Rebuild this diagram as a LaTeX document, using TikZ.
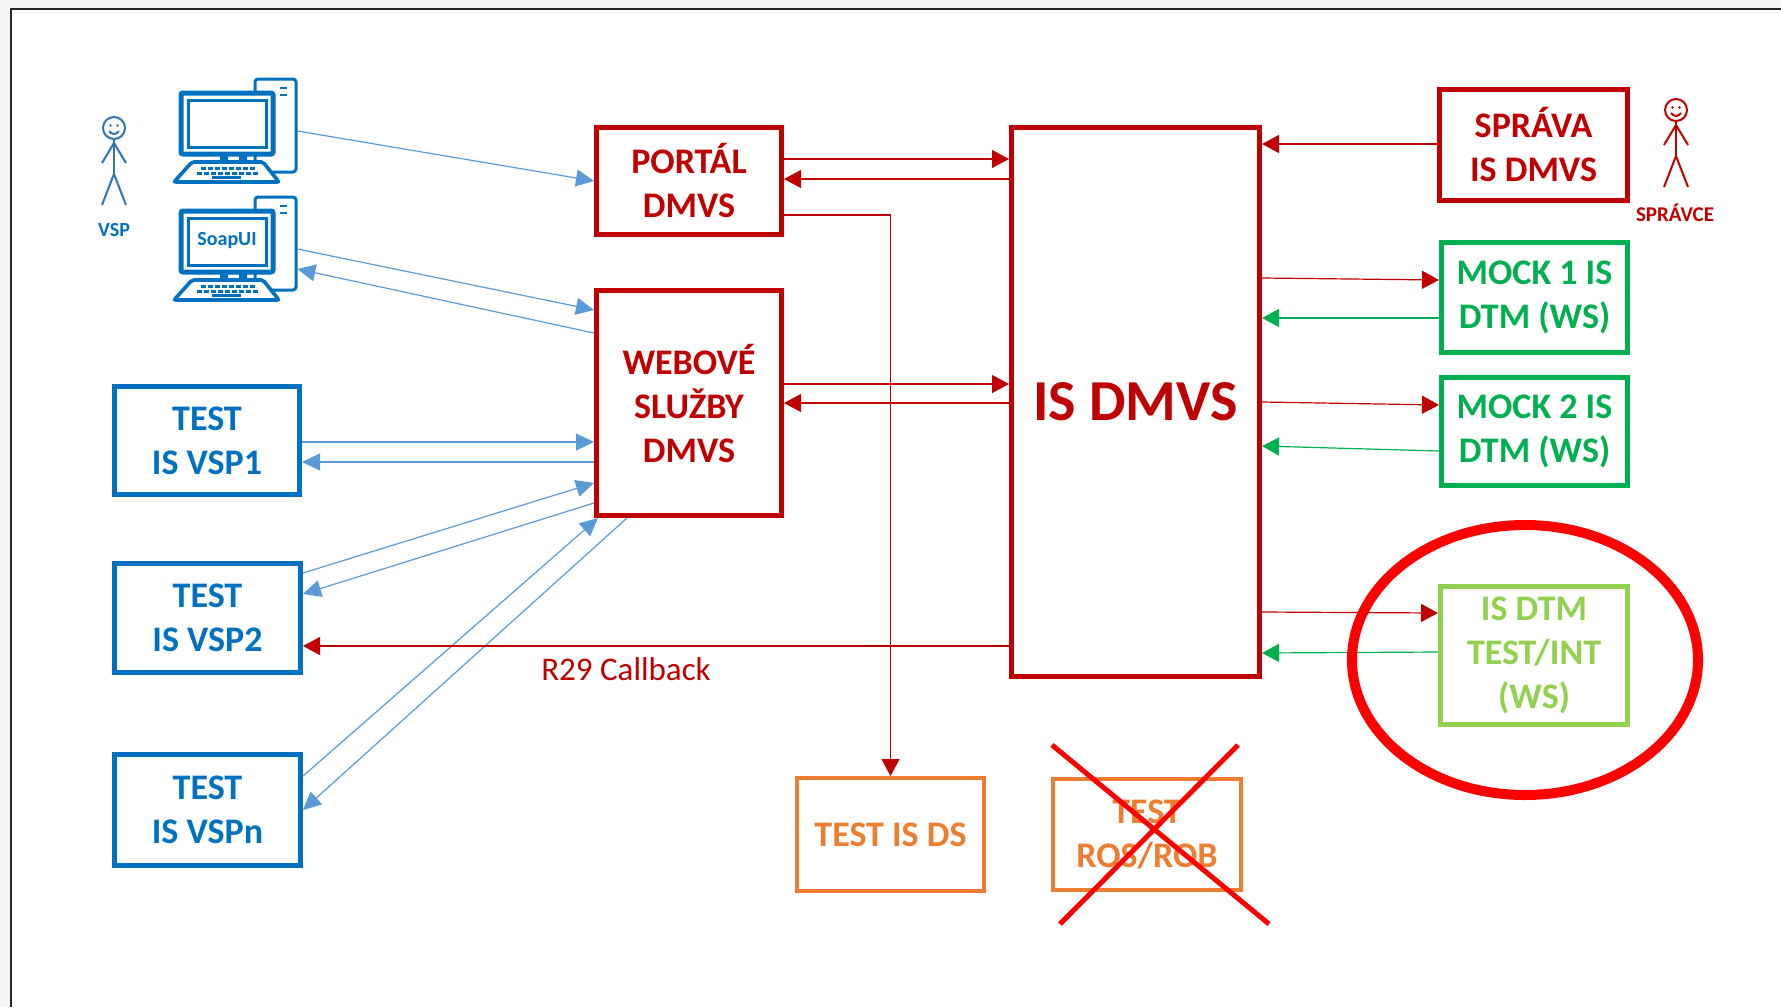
\documentclass[tikz,border=0pt]{standalone}
\usepackage{fontspec}
\setmainfont{Carlito}
\usetikzlibrary{arrows.meta,calc}
\definecolor{dred}{HTML}{C00000}
\definecolor{bblue}{HTML}{0070C0}
\definecolor{fblue}{HTML}{2E75B6}
\definecolor{lblue}{HTML}{5B9BD5}
\definecolor{mgreen}{HTML}{00B050}
\definecolor{lgreen}{HTML}{92D050}
\definecolor{orng}{HTML}{ED7D31}
\definecolor{bgray}{HTML}{F4F5F7}
\tikzset{
  box/.style={draw,line width=2.5pt,fill=white,inner sep=0pt,align=center,
    font=\fontsize{18}{22}\selectfont\bfseries},
  redbox/.style={box,draw=dred,text=dred},
  bluebox/.style={box,draw=bblue,text=bblue},
  greenbox/.style={box,draw=mgreen,text=mgreen},
  lgreenbox/.style={box,draw=lgreen,text=lgreen},
  orangebox/.style={box,line width=2pt,draw=orng,text=orng},
  bl/.style={draw=lblue,line width=0.6pt,-{Triangle[length=9pt,width=8.5pt]}},
  rd/.style={draw=dred,line width=0.6pt,-{Triangle[length=8.5pt,width=9pt]}},
  gr/.style={draw=mgreen,line width=0.6pt,-{Triangle[length=8.5pt,width=9pt]}},
  computer/.pic={
    \draw[bblue,line width=1.5pt,fill=white,rounded corners=1.5pt] (81,1) rectangle (122,94);
    \draw[bblue,line width=1.3pt] (106,10)--(113,10) (106,17)--(113,17);
    \draw[bblue,line width=2.5pt,fill=white,rounded corners=1pt] (7,15) rectangle (99,76);
    \draw[bblue,line width=1.5pt] (14,22) rectangle (92,69);
    \fill[bblue] (46,77) rectangle (54,84) (65,77) rectangle (73,84);
    \draw[bblue,line width=1.8pt,fill=white,rounded corners=1pt] (18,84)--(89,84)--(105,104)--(0,104)--cycle;
    \draw[bblue,line width=1.5pt,dash pattern=on 2.4pt off 1.1pt] (27,90.5)--(81,90.5) (23,95.5)--(85,95.5);
    \draw[bblue,line width=1.3pt] (38,99.5)--(67,99.5);
  },
  stick/.pic={
    \draw (0,0) circle[radius=5.5pt];
    \fill (-3.5,-2.5) circle[radius=0.7pt] (3.5,-2.5) circle[radius=0.7pt];
    \draw (-5,3) .. controls (-2,7) and (2,7) .. (5,3);
    \draw (0,11) -- (0,46);
    \draw (-12,35) -- (0,15) -- (12,35);
    \draw (-12,77) -- (0,46) -- (12,77);
  }
}
\begin{document}
\begin{tikzpicture}[x=0.5pt,y=-0.5pt]
\fill[bgray] (0,0) rectangle (1781,1007);
\useasboundingbox (0,0) rectangle (1781,1007);
\fill[white] (11,9) rectangle (1781,1007);
\draw[line width=1.2pt,color=black!85] (1781,9) -- (11,9) -- (11,1007);

% actors
\pic[fblue,line width=1pt] at (114,128) {stick};
\node[font=\fontsize{10}{12}\selectfont\bfseries,text=bblue] (vsplab) at (114,230) {VSP};
\pic[dred,line width=1pt] at (1676,110) {stick};
\node[font=\fontsize{10.5}{12}\selectfont\bfseries,text=dred] (spravce) at (1675,213) {SPRÁVCE};

% computers
\pic at (174,78) {computer};
\pic at (174,196) {computer};
\node[font=\fontsize{10}{12}\selectfont\bfseries,text=bblue] (soapui) at (227,241) {SoapUI};
\node[minimum width=61.5pt,minimum height=53pt,inner sep=0pt] (pc1) at (235.5,131) {};
\node[minimum width=61.5pt,minimum height=53pt,inner sep=0pt] (pc2) at (235.5,249) {};

% boxes
\node[redbox,minimum width=92.5pt,minimum height=53.5pt] (portal) at (689,181) {PORTÁL\\DMVS};
\node[redbox,minimum width=92.5pt,minimum height=112.5pt] (web) at (689,403) {WEBOVÉ\\SLUŽBY\\DMVS};
\node[redbox,minimum width=124pt,minimum height=274.5pt,font=\fontsize{29}{34}\selectfont\bfseries] (isd) at (1135.5,402) {IS DMVS};
\node[redbox,minimum width=94pt,minimum height=55.5pt] (sprava) at (1533.5,145) {SPRÁVA\\IS DMVS};
\node[greenbox,minimum width=93pt,minimum height=55pt] (mock1) at (1534.5,297.5) {MOCK 1 IS\\DTM (WS)};
\node[greenbox,minimum width=93pt,minimum height=54pt] (mock2) at (1534.5,431.5) {MOCK 2 IS\\DTM (WS)};
\node[lgreenbox,minimum width=93.5pt,minimum height=69pt] (dtm) at (1534,655.5) {IS DTM\\TEST/INT\\(WS)};
\node[bluebox,minimum width=92.5pt,minimum height=54pt] (vsp1) at (207,440.5) {TEST\\IS VSP1};
\node[bluebox,minimum width=93pt,minimum height=54.5pt] (vsp2) at (207.5,618) {TEST\\IS VSP2};
\node[bluebox,minimum width=93pt,minimum height=55.5pt] (vspn) at (207.5,810) {TEST\\IS VSPn};
\node[orangebox,minimum width=93.5pt,minimum height=56.5pt] (ds) at (890.5,834.5) {TEST IS DS};
\node[orangebox,minimum width=94pt,minimum height=55.5pt] (ros) at (1147,834.5) {TEST\\ROS/ROB};

% blue connectors
\draw[bl] (pc1.east) -- (portal.west);
\draw[bl] (pc2.east) -- ([yshift=46.5pt]web.west);
\draw[bl] ([yshift=35pt]web.west) -- ([yshift=-10pt]pc2.east);
\draw[bl] ([yshift=-0.75pt]vsp1.east) -- ([yshift=-19.5pt]web.west);
\draw[bl] ([yshift=-29.5pt]web.west) -- ([yshift=-10.75pt]vsp1.east);
\draw[bl] ([yshift=22.5pt]vsp2.east) -- ([yshift=-40pt]web.west);
\draw[bl] ([yshift=-50pt]web.west) -- ([yshift=12pt]vsp2.east);
\draw[bl] ([yshift=17pt]vspn.east) -- ([xshift=2pt]web.south west);
\draw[bl] ([xshift=-31pt]web.south) -- (vspn.east);

% red connectors
\draw[rd] ([yshift=11pt]portal.east) -- ([yshift=121.5pt]isd.west);
\draw[rd] ([yshift=111.5pt]isd.west) -- ([yshift=1pt]portal.east);
\draw[rd] ([yshift=-17pt]portal.east) -| (ds.north);
\draw[rd] ([yshift=9.5pt]web.east) -- ([yshift=9pt]isd.west);
\draw[rd] ([yshift=-0.5pt]isd.west) -- (web.east);
\draw[rd] ([yshift=-122pt]isd.west) -- ([yshift=-14pt]vsp2.east);
\node[font=\fontsize{16.5}{20}\selectfont,text=dred] (r29) at (626,669) {R29 Callback};
\draw[rd] ([yshift=0.5pt]sprava.west) -- ([yshift=129pt]isd.east);
\draw[rd] ([yshift=62pt]isd.east) -- ([yshift=8.75pt]mock1.west);
\draw[gr] ([yshift=-10.25pt]mock1.west) -- ([yshift=42pt]isd.east);
\draw[rd] (isd.east) -- ([yshift=13.25pt]mock2.west);
\draw[gr] ([yshift=-9.75pt]mock2.west) -- ([yshift=-22pt]isd.east);
\draw[rd] ([yshift=-105pt]isd.east) -- ([yshift=21.25pt]dtm.west);
\draw[gr] ([yshift=1.75pt]dtm.west) -- ([yshift=-125.5pt]isd.east);

% highlight and cross
\draw[red,line width=5pt] (1525,660) ellipse [x radius=86.5pt,y radius=67.5pt];
\draw[red,line width=2.5pt] (1052,745) -- (1269,924) (1238,745) -- (1060,924);
\end{tikzpicture}
\end{document}
